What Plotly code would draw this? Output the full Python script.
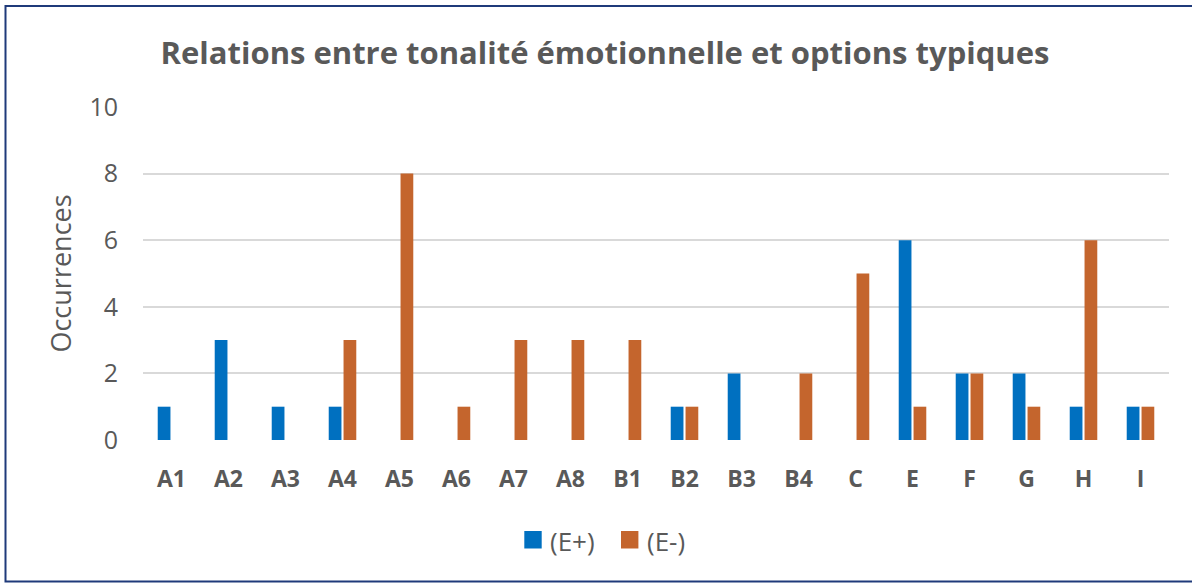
import plotly.graph_objects as go

categories = ["A1", "A2", "A3", "A4", "A5", "A6", "A7", "A8", "B1", "B2", "B3", "B4", "C", "E", "F", "G", "H", "I"]
e_plus = [1, 3, 1, 1, 0, 0, 0, 0, 0, 1, 2, 0, 0, 6, 2, 2, 1, 1]
e_minus = [0, 0, 0, 3, 8, 1, 3, 3, 3, 1, 0, 2, 5, 1, 2, 1, 6, 1]
series_names = ["(E+)", "(E-)"]
colors = ["#0070C0", "#C4652D"]

W, H = 1192, 583
L, R, T, B = 143, 1169, 107, 440
pw, ph = R - L, B - T

FONT = "Open Sans"
TXT = "#595959"

fig = go.Figure()
for name, vals, c in zip(series_names, [e_plus, e_minus], colors):
    fig.add_trace(go.Bar(x=categories, y=vals, name=name, showlegend=False,
                         marker=dict(color=c, line=dict(width=0))))

def px_x(x):
    return (x - L) / pw

def px_y(y):
    return (B - y) / ph

fig.update_layout(
    width=W, height=H,
    margin=dict(l=L, r=W - R, t=T, b=H - B, pad=0),
    paper_bgcolor="white", plot_bgcolor="white",
    barmode="group", bargap=0.48, bargroupgap=0.14,
    font=dict(family=FONT, color=TXT),
    title=dict(text="<b>Relations entre tonalité émotionnelle et options typiques</b>",
               x=605 / W, xanchor="center", y=1 - 53 / H, yanchor="middle",
               font=dict(family=FONT, size=31, color=TXT)),
    xaxis=dict(showgrid=False, showline=False, zeroline=False, ticks="",
               tickfont=dict(family=FONT, size=23, color=TXT, weight="bold"),
               ticklabelstandoff=23, range=[-0.5, 17.5]),
    yaxis=dict(range=[0, 10], dtick=2, showgrid=True, gridcolor="#D9D9D9", gridwidth=2,
               zeroline=False, showline=False, ticks="",
               tickfont=dict(family=FONT, size=25, color=TXT), ticklabelstandoff=24,
               title=dict(text="Occurrences", font=dict(family=FONT, size=27, color=TXT), standoff=9)),
    showlegend=False,
)

# legend drawn as squares + labels
leg_sq_x = [524.3, 621.0]
for name, c, sx in zip(series_names, colors, leg_sq_x):
    fig.add_shape(type="rect", xref="paper", yref="paper",
                  x0=px_x(sx), x1=px_x(sx + 17.4), y0=px_y(548.5), y1=px_y(531),
                  line=dict(width=0), fillcolor=c)
    fig.add_annotation(xref="paper", yref="paper", x=px_x(sx + 24), y=px_y(541),
                       xanchor="left", yanchor="middle", text=name, showarrow=False,
                       font=dict(family=FONT, size=26, color=TXT))

fig.add_shape(type="rect", xref="paper", yref="paper",
              x0=px_x(5.5), x1=px_x(1200), y0=px_y(581.5), y1=px_y(6),
              line=dict(color="#1F3A7A", width=2), fillcolor="rgba(0,0,0,0)", layer="above")

fig.write_html("out.html", config={"displayModeBar": False},
               post_script="document.body.style.margin='0';document.body.style.overflow='hidden';")
